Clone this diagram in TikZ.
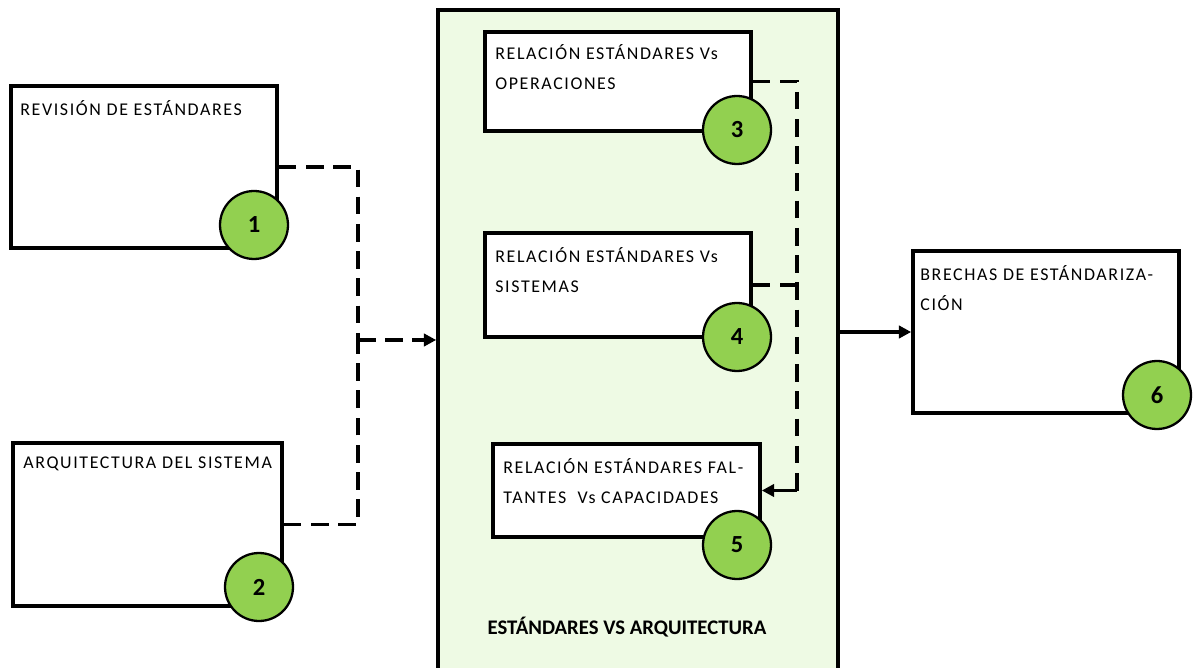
\documentclass[tikz,border=0pt]{standalone}
\usepackage{fontspec}
\setmainfont{Carlito}
\newfontfamily\boxfont[LetterSpace=9]{Carlito}
\usetikzlibrary{arrows.meta}
\definecolor{numgreen}{RGB}{146,208,80}
\definecolor{panelgreen}{RGB}{238,250,228}
\tikzset{
  stepbox/.style={draw=black, line width=2.1pt, fill=white, inner sep=0pt},
  numdot/.style={circle, draw=black, line width=1.3pt, fill=numgreen, minimum size=1.36cm, inner sep=0pt, font=\fontsize{14}{16}\selectfont\bfseries},
  boxtext/.style={anchor=north west, inner sep=0pt, align=left, font=\boxfont\fontsize{10.2}{17}\selectfont},
  dashconn/.style={line width=2pt, dash pattern=on 10pt off 5.5pt},
  tip/.style={-{Triangle[length=7pt,width=7pt]}}
}
\begin{document}
\begin{tikzpicture}[x=0.02cm,y=-0.02cm]
\useasboundingbox (0,0) rectangle (1196,668);
% container
\node[draw=black, line width=2.1pt, fill=panelgreen, minimum width=8cm, minimum height=13.4cm, inner sep=0pt] (cont) at (638,345) {};
\node[font=\fontsize{11.8}{13}\selectfont\bfseries, inner sep=0pt] (title) at (627,627) {ESTÁNDARES VS ARQUITECTURA};
% boxes
\node[stepbox, minimum width=5.32cm, minimum height=3.24cm] (b1) at (144,167) {};
\node[stepbox, minimum width=5.38cm, minimum height=3.26cm] (b2) at (147.5,524.5) {};
\node[stepbox, minimum width=5.32cm, minimum height=1.98cm] (b3) at (618,81.5) {};
\node[stepbox, minimum width=5.32cm, minimum height=2.08cm] (b4) at (618,285) {};
\node[stepbox, minimum width=5.34cm, minimum height=1.86cm] (b5) at (626.5,490.5) {};
\node[stepbox, minimum width=5.32cm, minimum height=3.24cm] (b6) at (1046,332) {};
% texts
\node[boxtext] (t1) at (20,100) {REVISIÓN DE ESTÁNDARES};
\node[boxtext] (t2) at (23,457) {ARQUITECTURA DEL SISTEMA};
\node[boxtext] (t3) at (495,44) {RELACIÓN ESTÁNDARES Vs\\OPERACIONES};
\node[boxtext] (t4) at (495,247) {RELACIÓN ESTÁNDARES Vs\\SISTEMAS};
\node[boxtext] (t5) at (503,458) {RELACIÓN ESTÁNDARES FAL-\\TANTES\ \ Vs CAPACIDADES};
\node[boxtext] (t6) at (920,265) {BRECHAS DE ESTÁNDARIZA-\\CIÓN};
% numbers
\node[numdot] (c1) at (254,225) {1};
\node[numdot] (c2) at (259,587) {2};
\node[numdot] (c3) at (737,130) {3};
\node[numdot] (c4) at (737,337) {4};
\node[numdot] (c5) at (737,545) {5};
\node[numdot] (c6) at (1157,395) {6};
% left connectors
\coordinate (jl) at (358,340);
\draw[dashconn] (b1.east) -| (jl);
\draw[dashconn] (b2.east) -| (jl);
\draw[dashconn, tip] (jl) -- (jl -| cont.west);
% right connectors
\coordinate (jr) at (797,490.5);
\draw[dashconn] (b3.east) -| (jr);
\draw[dashconn] (b4.east) -- (b4.east -| jr);
\coordinate (jr2) at (783,490.5);
\draw[line width=2pt, tip] (jr2) -- (b5.east);
\draw[dashconn] (jr) -- (jr2);
% output
\draw[line width=2pt, tip] (cont.east |- b6.west) -- (b6.west);
\end{tikzpicture}
\end{document}
